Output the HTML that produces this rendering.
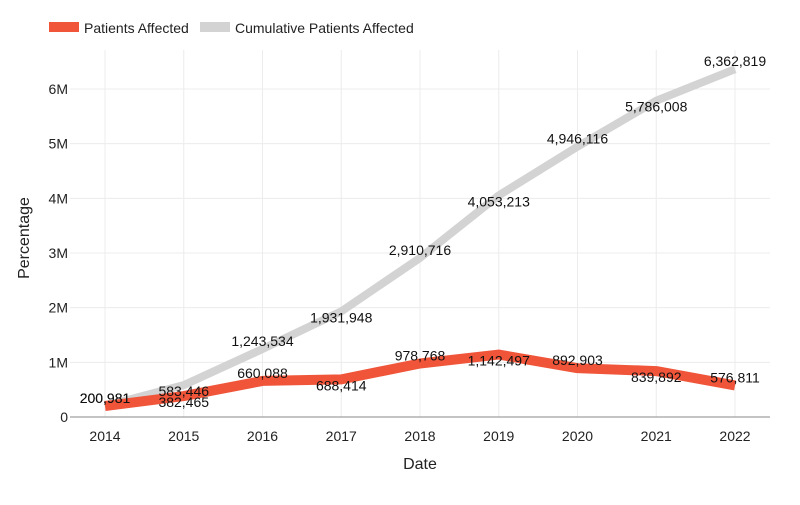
<!DOCTYPE html>
<html><head><meta charset="utf-8"><style>
body{margin:0;background:#fff;font-family:"Liberation Sans",sans-serif;}
svg text{font-family:"Liberation Sans",sans-serif;}
</style></head><body>
<svg id="chart" width="800" height="500">
<g>
<rect x="49" y="22" width="30" height="10" fill="#f05539"/>
<text x="84" y="33" font-size="14" fill="#222">Patients Affected</text>
<rect x="200" y="22" width="30" height="10" fill="#d3d3d3"/>
<text x="235" y="33" font-size="14" fill="#222">Cumulative Patients Affected</text>
</g>
<g id="grid"></g><g id="axes"></g><g id="lines"></g><g id="labels"></g>
<text x="420" y="469" font-size="16" text-anchor="middle" fill="#222">Date</text>
<text x="29" y="238" font-size="16" text-anchor="middle" fill="#222" transform="rotate(-90 29 238)">Percentage</text>
</svg>
<script>
const years = ["2014","2015","2016","2017","2018","2019","2020","2021","2022"];
const patients = [200981,382465,660088,688414,978768,1142497,892903,839892,576811];
const cumulative = [200981,583446,1243534,1931948,2910716,4053213,4946116,5786008,6362819];
const yTicks = [0,1000000,2000000,3000000,4000000,5000000,6000000];
const yTickLabels = ["0","1M","2M","3M","4M","5M","6M"];
const NS="http://www.w3.org/2000/svg";
const x0=105, dx=78.75, yBase=417, yPer=(417-89)/6000000;
const X=i=>x0+i*dx, Y=v=>yBase-v*yPer;
function mk(t,a,p){const e=document.createElementNS(NS,t);for(const k in a)e.setAttribute(k,a[k]);p.appendChild(e);return e;}
const grid=document.getElementById('grid'),axes=document.getElementById('axes'),lines=document.getElementById('lines'),labels=document.getElementById('labels');
years.forEach((y,i)=>{
 const g=mk('line',{x1:X(i),x2:X(i),y1:50,y2:yBase,stroke:'#ececec'},grid);
 
 
 const t=mk('text',{x:X(i),y:441,'font-size':14,'text-anchor':'middle',fill:'#222'},axes);t.textContent=y;
 
 
});
yTicks.forEach((v,i)=>{
 if(v>0){const g=mk('line',{x1:70,x2:770,y1:Y(v),y2:Y(v),stroke:'#ececec'},grid);
 
 }
 const t=mk('text',{x:68,y:Y(v)+5,'font-size':14,'text-anchor':'end',fill:'#222'},axes);t.textContent=yTickLabels[i];
 
 
});
const ax=mk('line',{x1:70,x2:770,y1:yBase,y2:yBase,stroke:'#888'},axes);


function series(vals,color,w,name){
 const p=mk('polyline',{points:vals.map((v,i)=>X(i)+','+Y(v)).join(' '),fill:'none',stroke:color,'stroke-width':w,'stroke-linejoin':'round'},lines);
 
 
 vals.forEach((v,i)=>{
  const t=mk('text',{x:X(i),y:Y(v)+(i%2==0?-3:11),'font-size':14,'text-anchor':'middle',fill:'#111'},labels);
  t.textContent=v.toLocaleString('en-US');
  
  
 });
}
series(cumulative,'#d3d3d3',8,'cumulative');
series(patients,'#f05539',10,'patients');
</script>
</body></html>
